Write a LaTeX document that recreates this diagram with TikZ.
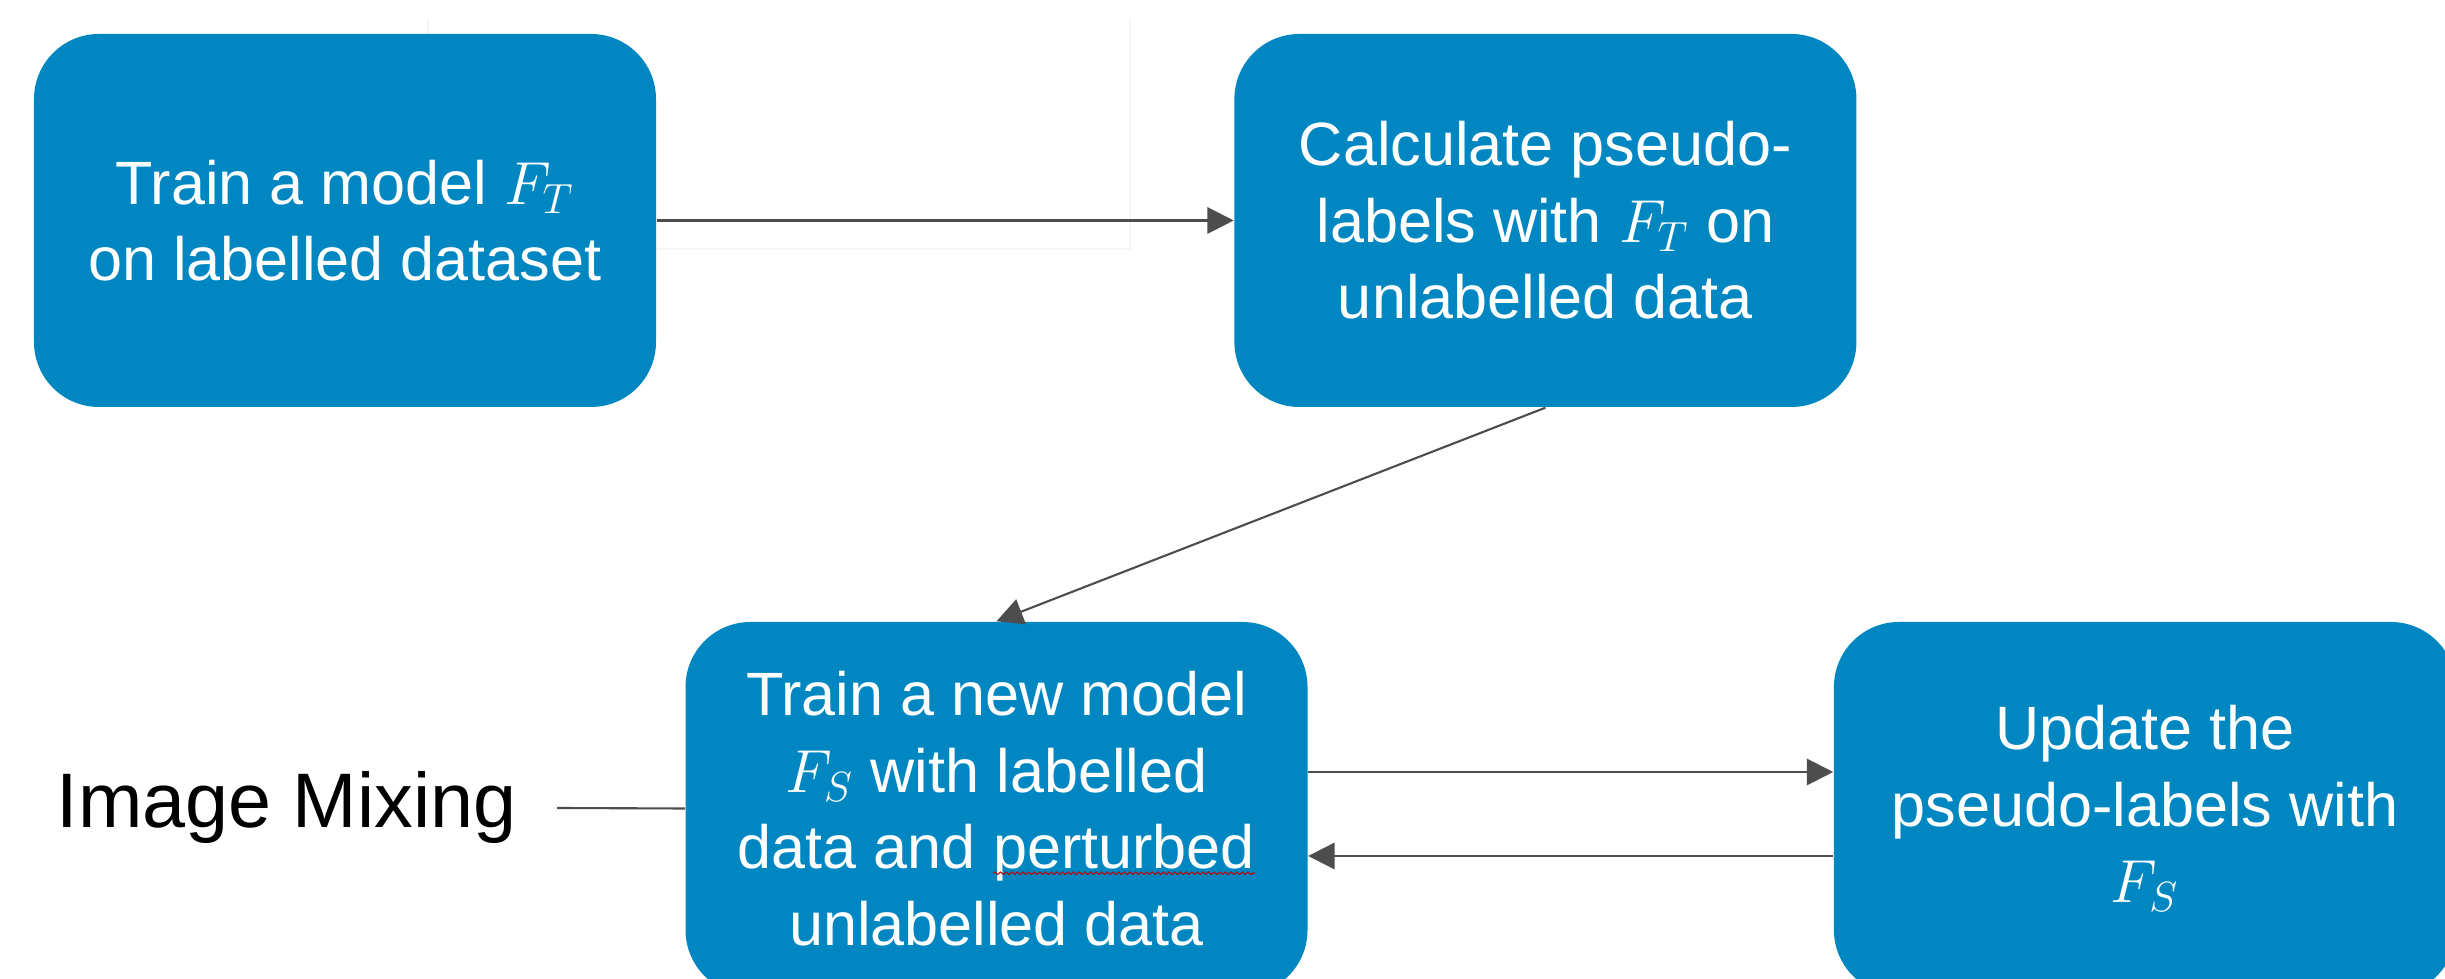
\documentclass[tikz,border=0pt]{standalone}
\usepackage{fontspec}
\setmainfont{Liberation Sans}
\usepackage{xcolor}
\usepackage{tikz}
\usetikzlibrary{positioning,arrows.meta,decorations.pathmorphing}

\definecolor{stepblue}{RGB}{0,135,193}
\definecolor{arrowgray}{RGB}{77,77,77}

% red spell-check wave under a word
\newcommand{\spellmark}[1]{\tikz[baseline=(w.base)]{\node[shape=rectangle,draw=none,fill=none,inner sep=0pt,outer sep=0pt,minimum size=0pt,text=white] (w) {#1};
    \draw[red!75!black, line width=0.3pt, rounded corners=0pt, decorate, decoration={snake,amplitude=0.35pt,segment length=1.6pt}] ([yshift=-1.3pt]w.base west) -- ([yshift=-1.3pt]w.base east);}}

\begin{document}
\begin{tikzpicture}[
    stepbox/.style={rectangle, rounded corners=0.65cm, fill=stepblue, text=white,
        minimum width=6.22cm, minimum height=3.73cm, inner sep=0pt, align=center,
        font=\fontsize{17.4}{21.8}\selectfont},
    flow/.style={draw=arrowgray, line width=0.6pt, -{Triangle[length=7.5pt,width=7.5pt]}},
    mixlabel/.style={font=\fontsize{22}{26}\selectfont, inner xsep=0.4cm}
]
    \useasboundingbox (0,0) rectangle (24.45,9.79);

    % faint frame behind the first arrow
    \draw[black!4, line width=0.5pt] (4.28,9.61) -- (4.28,7.30) -- (11.30,7.30) -- (11.30,9.61);

    % Steps
    \node[stepbox] (teacher) at (3.45,7.585) {Train a model $F_T$\\on labelled dataset};
    \node[stepbox, right=5.77cm of teacher] (pseudo) {Calculate pseudo-\\labels with $F_T$ on\\unlabelled data};
    \node[stepbox] (student) at (9.965,1.705) {Train a new model\\$F_S$ with labelled\\data and \spellmark{perturbed}\\unlabelled data};
    \node[stepbox, right=5.25cm of student] (update) {Update the\\pseudo-labels with\\$F_S$};
    \node[mixlabel] (mixing) at (2.865,1.71) {Image Mixing};

    % Arrows
    \draw[flow] (teacher) -- (pseudo);
    \draw[flow] (pseudo.south) -- (student.north);
    \draw[flow] ([yshift=0.365cm]student.east) -- ([yshift=0.365cm]update.west);
    \draw[flow] ([yshift=-0.475cm]update.west) -- ([yshift=-0.475cm]student.east);
    \draw[draw=arrowgray, line width=0.6pt] (mixing.east) -- (student.west);
\end{tikzpicture}
\end{document}
